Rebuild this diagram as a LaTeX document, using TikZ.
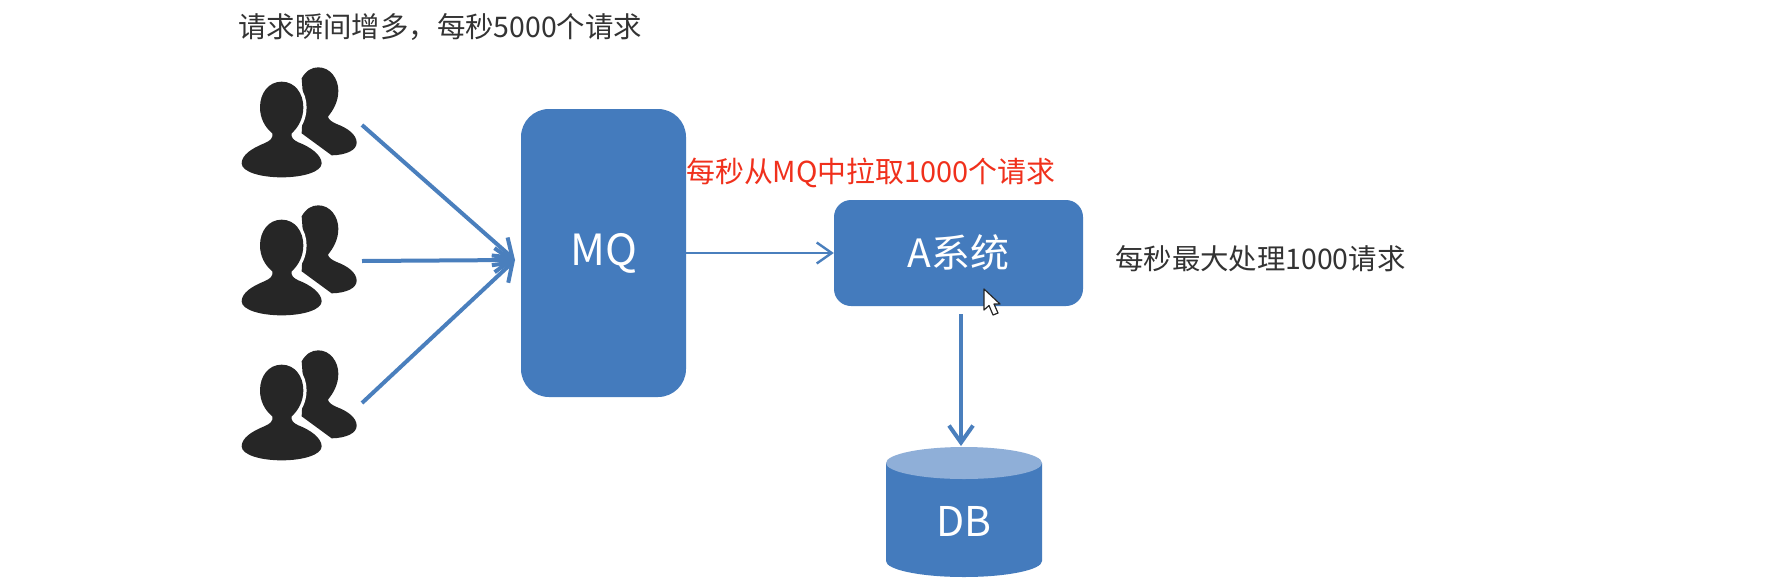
\documentclass[tikz,border=0pt]{standalone}
\usepackage{fontspec}
\setmainfont{Noto Sans CJK SC}
\usetikzlibrary{arrows.meta}
\definecolor{boxblue}{HTML}{447BBD}
\definecolor{dbtopblue}{HTML}{8FAFD8}
\definecolor{lineblue}{HTML}{4A7FBD}
\definecolor{icondark}{HTML}{262626}
\definecolor{labeldark}{HTML}{333333}
\definecolor{labelred}{HTML}{F0301C}
\newcommand{\frontperson}{(185,95) .. controls (145,95) and (120,130) .. (120,172) .. controls (120,205) and (135,232) .. (157,250) .. controls (160,265) and (150,272) .. (135,279) .. controls (95,295) and (65,315) .. (65,340) .. controls (65,365) and (120,382) .. (185,382) .. controls (250,382) and (305,365) .. (305,340) .. controls (305,315) and (270,290) .. (235,277) .. controls (220,270) and (212,262) .. (215,250) .. controls (235,232) and (250,205) .. (250,172) .. controls (250,130) and (225,95) .. (185,95) -- cycle}
\tikzset{
  box/.style={fill=boxblue,text=white,font=\fontsize{39}{43}\selectfont,inner sep=0pt},
  label/.style={inner sep=0pt,font=\fontsize{28.4}{32}\selectfont,text=labeldark},
  link/.style={draw=lineblue,line width=4pt,-{Straight Barb[length=17pt,width=24pt,line width=4pt]}},
  thinlink/.style={draw=lineblue,line width=2.4pt,-{Straight Barb[length=15pt,width=21pt,line width=2.4pt]}},
  users/.pic={
    \begin{scope}[scale=1/3]
    \fill[icondark] (245,85) .. controls (258,62) and (275,52) .. (295,52) .. controls (330,52) and (355,85) .. (355,122) .. controls (355,155) and (340,180) .. (324,200) .. controls (326,210) and (335,215) .. (350,222) .. controls (385,235) and (410,255) .. (410,278) .. controls (410,300) and (380,315) .. (335,316) -- (245,250) -- (250,150) -- cycle;
    \draw[white,line width=6.5pt,line join=round] \frontperson;
    \fill[icondark] \frontperson;
    \end{scope}
  }
}
\begin{document}
\begin{tikzpicture}[x=1pt,y=-1pt]
\useasboundingbox (0,0) rectangle (1775,579);
\fill[white] (0,0) rectangle (1775,579);

\pic at (220,50) {users};
\pic at (220,188) {users};
\pic at (220,333) {users};
\coordinate (u1) at (362,125);
\coordinate (u2) at (362,261);
\coordinate (u3) at (362,403);
\coordinate (mqin) at (515,260);

\node[box,rounded corners=28pt,minimum width=165pt,minimum height=288pt,font=\fontsize{43}{47}\selectfont] (mq) at (603.5,253) {\raisebox{-4pt}{MQ}};
\node[box,rounded corners=17pt,minimum width=249pt,minimum height=106pt] (asys) at (958.5,253) {A系统};

% database cylinder
\fill[boxblue] (886,463) -- (886,561) arc[start angle=180,end angle=0,x radius=78,y radius=16] -- (1042,463) -- cycle;
\fill[dbtopblue] (964,463) ellipse[x radius=78,y radius=16];
\node[inner sep=0pt,text=white,font=\fontsize{41}{45}\selectfont] (db) at (964,521) {DB};
\coordinate (dbtop) at (961,446);
\coordinate (aout) at (961,314);

\draw[link] (u1) -- (mqin);
\draw[link] (u2) -- (mqin);
\draw[link] (u3) -- (mqin);
\draw[thinlink] (mq.east |- asys.west) -- (asys.west);
\draw[link] (aout) -- (dbtop);

\node[label,anchor=west] (title) at (238,27) {请求瞬间增多，每秒5000个请求};
\node[label,anchor=west,text=labelred,font=\fontsize{28.9}{32}\selectfont] (pull) at (686,173) {每秒从MQ中拉取1000个请求};
\node[label,anchor=west] (cap) at (1115,259) {每秒最大处理1000请求};

% mouse cursor
\draw[fill=white,draw=icondark,line width=1.2pt,line join=round] (984,289) -- (984,310) -- (989,305.5) -- (993,315) -- (998,313) -- (994,304) -- (1000,304) -- cycle;
\end{tikzpicture}
\end{document}
